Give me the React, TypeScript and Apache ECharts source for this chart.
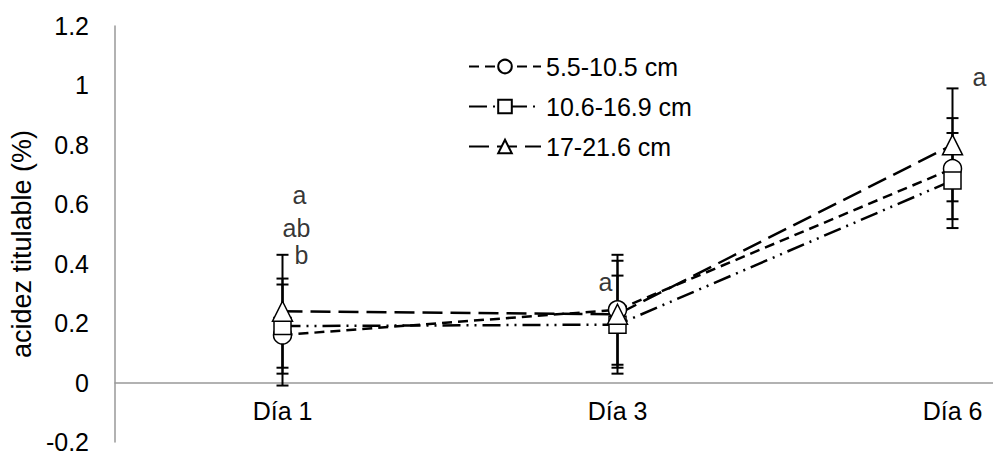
import React, { useEffect, useRef } from "react";
import * as echarts from "echarts";

const categories = ["Día 1", "Día 3", "Día 6"];
const yTicks = [-0.2, 0, 0.2, 0.4, 0.6, 0.8, 1, 1.2];

const seriesNames = ["5.5-10.5 cm", "10.6-16.9 cm", "17-21.6 cm"];
const circleValues = [0.16, 0.245, 0.72];
const squareValues = [0.19, 0.195, 0.68];
const triangleValues = [0.24, 0.23, 0.80];

const circleErr = [0.17, 0.185, 0.17];
const squareErr = [0.16, 0.165, 0.16];
const triangleErr = [0.19, 0.18, 0.19];

const letterCats = [0, 0, 0, 1, 2];
const letterValues = [0.63, 0.52, 0.43, 0.34, 1.03];
const letterTexts = ["a", "ab", "b", "a", "a"];

const FONT = "'Liberation Sans', Arial, sans-serif";
const FS = 25;

export default function App() {
  const ref = useRef<HTMLDivElement>(null);
  useEffect(() => {
    if (!ref.current) return;
    const chart = echarts.init(ref.current, null, { renderer: "svg" });

    const mkErr = (vals: number[], errs: number[]) =>
      vals.map((v, i) => [i, v - errs[i], v + errs[i]]);
    const errData = [
      ...mkErr(circleValues, circleErr),
      ...mkErr(squareValues, squareErr),
      ...mkErr(triangleValues, triangleErr),
    ];

    const letterOffsets = [[17, 0], [14, 0], [19, 0], [-12, 0], [27, 0]];

    const gridTop = 26;
    const gridHeight = 416;
    const yMin = yTicks[0];
    const yMax = yTicks[yTicks.length - 1];
    const zeroOffset = -((0 - yMin) / (yMax - yMin)) * gridHeight;

    const lineBase = (name: string, data: number[], symbol: string, dash: number[], size: number) => ({
      name,
      type: "line",
      data,
      symbol,
      symbolSize: size,
      z: 3,
      lineStyle: { color: "#000", width: 2.5, type: dash },
      itemStyle: { color: "#fff", borderColor: "#000", borderWidth: 1.5 },
    });

    chart.setOption({
      animation: false,
      textStyle: { fontFamily: FONT },
      grid: {
        left: 115,
        top: gridTop,
        width: 1005,
        height: gridHeight,
        containLabel: false,
        outerBoundsMode: "none",
      },
      legend: {
        orient: "vertical",
        left: 463,
        top: 49,
        itemWidth: 72,
        itemHeight: 17,
        itemGap: 15,
        textStyle: { fontSize: FS, color: "#000", fontFamily: FONT },
        data: seriesNames,
      },
      xAxis: {
        type: "category",
        data: categories,
        boundaryGap: true,
        offset: zeroOffset,
        axisLine: { onZero: false, lineStyle: { color: "#999", width: 1.5 } },
        axisTick: { show: false },
        axisLabel: { fontSize: FS, color: "#000", margin: 16, fontFamily: FONT },
        splitLine: { show: false },
      },
      yAxis: {
        type: "value",
        min: yMin,
        max: yMax,
        interval: 0.2,
        name: "acidez titulable (%)",
        nameLocation: "middle",
        nameGap: 78,
        nameTextStyle: { fontSize: 27, color: "#000", fontFamily: FONT, padding: [0, 20, 0, 0] },
        axisLine: { show: true, lineStyle: { color: "#999", width: 1.5 } },
        axisTick: { show: false },
        splitLine: { show: false },
        axisLabel: { fontSize: FS, color: "#000", margin: 26, fontFamily: FONT },
      },
      series: [
        {
          type: "custom",
          z: 2,
          silent: true,
          data: errData,
          renderItem: (params: any, api: any) => {
            const x = api.value(0);
            const lo = api.coord([x, api.value(1)]);
            const hi = api.coord([x, api.value(2)]);
            const hw = 6;
            const st = { stroke: "#000", lineWidth: 2 };
            return {
              type: "group",
              children: [
                { type: "line", shape: { x1: lo[0], y1: lo[1], x2: hi[0], y2: hi[1] }, style: st },
                { type: "line", shape: { x1: lo[0] - hw, y1: lo[1], x2: lo[0] + hw, y2: lo[1] }, style: st },
                { type: "line", shape: { x1: hi[0] - hw, y1: hi[1], x2: hi[0] + hw, y2: hi[1] }, style: st },
              ],
            };
          },
        },
        lineBase(seriesNames[0], circleValues, "circle", [10, 6], 18),
        lineBase(seriesNames[1], squareValues, "rect", [18, 6, 2, 6, 2, 6], 17),
        lineBase(seriesNames[2], triangleValues, "triangle", [20, 8], 20),
        {
          type: "scatter",
          z: 4,
          silent: true,
          symbolSize: 0,
          data: letterValues.map((v, i) => ({
            value: [letterCats[i], v],
            label: { offset: letterOffsets[i] },
          })),
          label: {
            show: true,
            position: "inside",
            fontSize: FS,
            color: "#000",
            fontFamily: FONT,
            formatter: (p: any) => letterTexts[p.dataIndex],
          },
        },
      ],
    });
    return () => chart.dispose();
  }, []);
  return (
    <div
      ref={ref}
      style={{ position: "fixed", left: 0, top: 0, width: 993, height: 455, background: "#fff" }}
    />
  );
}
